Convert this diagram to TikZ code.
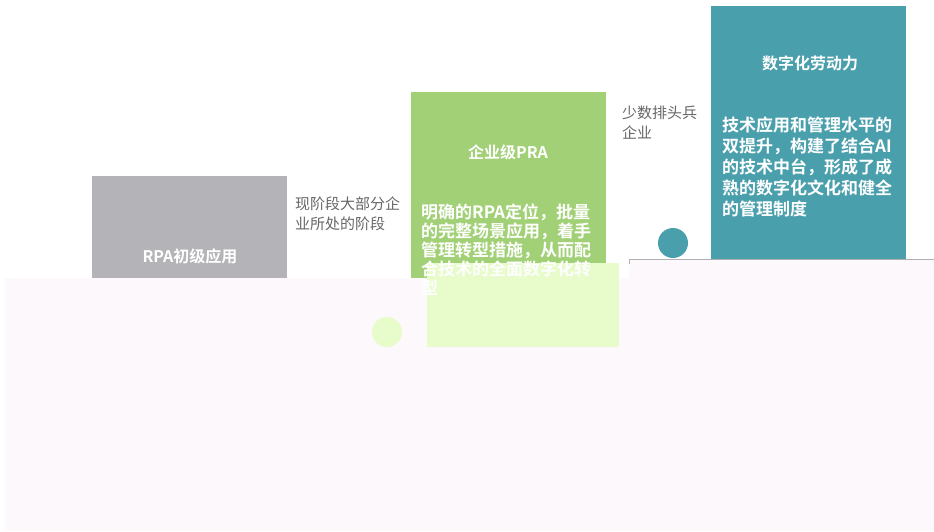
\documentclass[tikz,border=0pt]{standalone}
\usepackage{fontspec}
\newfontfamily\cjk{Noto Sans CJK SC}[BoldFont={Noto Sans CJK SC Bold}]
\definecolor{bgpink}{HTML}{FCF8FC}
\definecolor{boxgray}{HTML}{B4B3B8}
\definecolor{boxgreen}{HTML}{A2D077}
\definecolor{lightgreen}{HTML}{E7FBCB}
\definecolor{boxteal}{HTML}{4A9FAC}
\definecolor{sidetext}{HTML}{666666}
\definecolor{linegray}{HTML}{B0B0B0}
\tikzset{
  stagebox/.style={draw=none, inner sep=0, outer sep=0, minimum width=195pt},
  titletext/.style={text=white, inner sep=0, font={\cjk\bfseries\fontsize{16}{18}\selectfont}},
  bodytext/.style={text=white, inner sep=0, align=left, anchor=north west},
  sidenote/.style={text=sidetext, inner sep=0, align=left, anchor=north west, font={\cjk\fontsize{15}{20}\selectfont}},
  dot/.style={circle, inner sep=0, minimum size=30pt, draw=none},
  groundline/.style={draw=linegray, line width=0.8pt},
}
\begin{document}
\begin{tikzpicture}[x=1pt,y=-1pt]
\useasboundingbox (0,0) rectangle (934,531);
% pale background band
\fill[bgpink] (5,278) rectangle (934,531);
\fill[bgpink] (629,259) rectangle (934,278);
% stage boxes
\node[stagebox, fill=boxgray, minimum height=102pt] (gray) at (189.5,227) {};
\node[stagebox, fill=boxgreen, minimum height=186pt] (green) at (508.5,185) {};
\node[stagebox, fill=lightgreen, minimum width=192pt, minimum height=84pt] (lgreen) at (523,305) {};
\node[stagebox, fill=boxteal, minimum height=253pt] (teal) at (808.5,132.5) {};
% dots
\node[dot, fill=lightgreen] (dotg) at (387,332) {};
\node[dot, fill=boxteal] (dott) at (673,243) {};
% base line
\coordinate (lstart) at (629,259.5);
\coordinate (lend) at (934,259.5);
\coordinate (ltick) at (629,264);
\draw[groundline] (ltick) -- (lstart) -- (lend);
% titles
\node[titletext] (t1) at (190,256) {RPA初级应用};
\node[titletext] (t2) at (508,152) {企业级PRA};
\node[titletext] (t3) at (810,63) {数字化劳动力};
% body texts
\node[bodytext, font={\cjk\bfseries\fontsize{17}{19}\selectfont}] (b2) at (421,203.5)
  {明确的RPA定位，批量\\的完整场景应用，着手\\管理转型措施，从而配\\合技术的全面数字化转\\型};
\node[bodytext, font={\cjk\bfseries\fontsize{17}{21}\selectfont}] (b3) at (722,116.5)
  {技术应用和管理水平的\\双提升，构建了结合AI\\的技术中台，形成了成\\熟的数字化文化和健全\\的管理制度};
% side notes
\node[sidenote] (s1) at (295,196.5) {现阶段大部分企\\业所处的阶段};
\node[sidenote] (s2) at (622,105.5) {少数排头兵\\企业};
\end{tikzpicture}
\end{document}
